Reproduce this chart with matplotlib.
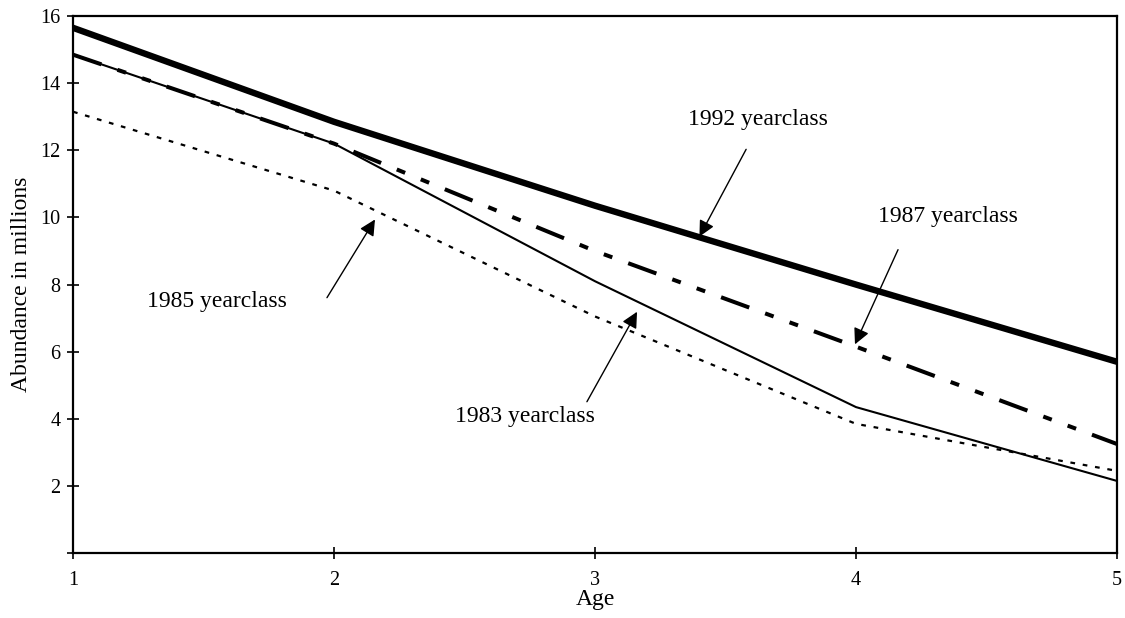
import matplotlib
matplotlib.use('Agg')
import matplotlib.pyplot as plt

plt.rcParams['font.family'] = ['Liberation Serif', 'DejaVu Serif']
plt.rcParams['lines.scale_dashes'] = False

# abundance (millions) of each yearclass by age
ages = [1, 2, 3, 4, 5]
yc1992 = [15.65, 12.85, 10.35, 8.0, 5.7]
yc1987 = [14.85, 12.2, 9.0, 6.15, 3.25]
yc1983 = [14.85, 12.2, 8.1, 4.35, 2.15]
yc1985 = [13.15, 10.8, 7.05, 3.85, 2.45]

fig = plt.figure(figsize=(11.25, 6.18), dpi=100)
ax = fig.add_axes([0.0649, 0.105, 0.928, 0.869])

ax.plot(ages, yc1987, color='black', lw=2.9,
        dashes=(21.6, 12.2, 6.5, 12.2, 6.5, 12.2), dash_capstyle='butt')
ax.plot(ages, yc1983, color='black', lw=1.5)
ax.plot(ages, yc1985, color='black', lw=1.6, dashes=(3.4, 5.6), dash_capstyle='butt')
ax.plot(ages, yc1992, color='black', lw=4.6, solid_capstyle='round')

ax.set_xlim(1, 5)
ax.set_ylim(0, 16)
ax.set_xticks(ages)
ax.set_yticks(range(0, 17, 2))
ax.set_yticklabels([''] + [str(v) for v in range(2, 17, 2)])
ax.tick_params(direction='inout', length=8, width=1.2, labelsize=14.5, pad=5)
ax.tick_params(axis='x', pad=9)
for s in ax.spines.values():
    s.set_linewidth(1.6)

ax.set_xlabel('Age', fontsize=17, labelpad=-1)
ax.set_ylabel('Abundance in millions', fontsize=17, labelpad=6)

arrow = dict(arrowstyle='-|>', color='black', lw=1.0, mutation_scale=24,
             shrinkA=0, shrinkB=0)
labels = [
    ('1992 yearclass', (3.624, 12.93), (3.579, 12.03), (3.40, 9.43)),
    ('1987 yearclass', (4.352, 10.03), (4.161, 9.04), (3.996, 6.22)),
    ('1985 yearclass', (1.552, 7.49), (1.973, 7.61), (2.157, 9.94)),
    ('1983 yearclass', (2.732, 4.06), (2.969, 4.51), (3.161, 7.19)),
]
for txt, tpos, tail, tip in labels:
    ax.text(tpos[0], tpos[1], txt, fontsize=17, ha='center', va='center')
    ax.annotate('', xy=tip, xytext=tail, arrowprops=arrow)

fig.savefig('out.png', dpi=100)
